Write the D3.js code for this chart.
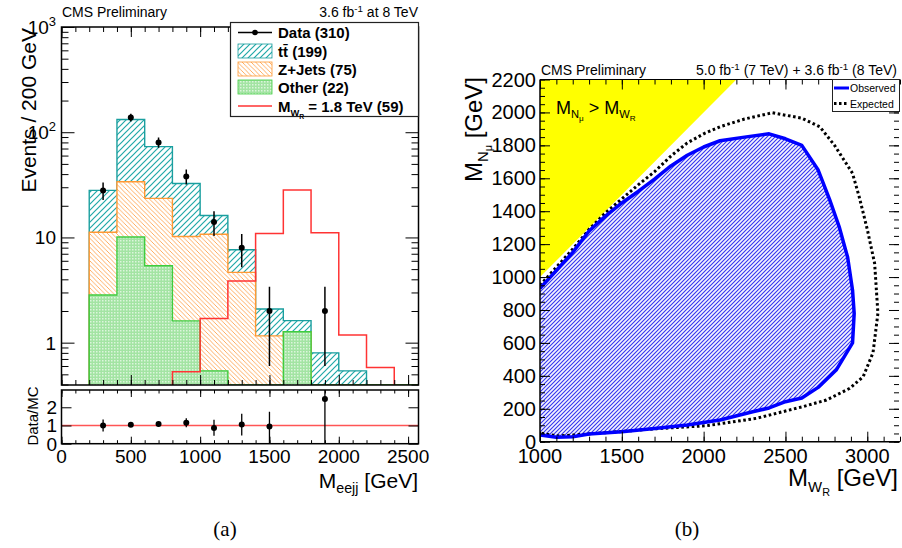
<!DOCTYPE html>
<html>
<head>
<meta charset="utf-8">
<script src="https://cdn.jsdelivr.net/npm/d3@7"></script>
<style>
body { margin: 0; background: #fff; }
text { font-family: "Liberation Sans", Arial, Helvetica, sans-serif; fill: #000; }
</style>
</head>
<body>
<script>
// ---- panel (a): M_eejj spectrum ----
var binLow   = [200, 400, 600, 800, 1000, 1200, 1400, 1600, 1800, 2000, 2200, 2400];
var binWidth = 200;
var ttbar    = [16.8, 98.2, 49.5, 22.4, 5.4, 2.98, 0.93, 0.35, 0.80, 0.54, 0, 0];
var zjets    = [8.36, 23.7, 18.1, 8.6, 10.2, 4.66, 1.16, 0, 0, 0, 0, 0];
var other    = [2.84, 10.1, 5.39, 1.61, 0.54, 0, 0, 1.27, 0, 0, 0, 0];
var signal   = [0, 0, 0, 0.53, 1.70, 3.85, 10.9, 28.2, 11.1, 1.18, 0.58, 0];
var dataMass = [300, 500, 700, 900, 1100, 1300, 1500, 1900];
var dataVal  = [28, 138, 80, 38, 14, 8, 2, 2];
var dataErr  = [5.3, 11.7, 8.9, 6.2, 3.7, 2.8, 1.4, 1.4];
var ratioVal   = [1.0, 1.04, 1.08, 1.15, 0.86, 1.05, 0.95, 2.45];
var ratioErrLo = [0.33, 0.1, 0.13, 0.25, 0.42, 0.6, 0.95, 2.45];
var ratioErrHi = [0.33, 0.1, 0.13, 0.25, 0.45, 0.6, 0.8, 1.8];
var legendA = ["Data (310)", "tt\u0304 (199)", "Z+Jets (75)", "Other (22)"];
var xTicksA = [0, 500, 1000, 1500, 2000, 2500];

// ---- panel (b): exclusion contours ----
var observed = [[1000,931],[1100,1040],[1200,1150],[1300,1280],[1400,1370],[1500,1450],[1600,1520],
  [1700,1595],[1800,1675],[1900,1740],[2000,1790],[2100,1828],[2250,1850],[2400,1870],[2500,1840],
  [2600,1800],[2700,1650],[2770,1470],[2830,1300],[2880,1120],[2910,920],[2920,780],[2910,600],
  [2810,435],[2700,330],[2600,265],[2500,243],[2400,205],[2300,182],[2100,132],[1900,101],[1700,80],
  [1500,60],[1300,47],[1200,30],[1100,27],[1000,41]];
var expected = [[1000,950],[1100,1060],[1200,1170],[1300,1290],[1400,1390],[1500,1475],[1600,1560],
  [1700,1640],[1800,1735],[1900,1815],[2000,1870],[2100,1913],[2250,1960],[2420,1998],[2600,1965],
  [2710,1913],[2800,1800],[2910,1630],[2950,1490],[3000,1290],[3045,1083],[3065,780],[3035,540],
  [2975,395],[2893,324],[2750,253],[2607,213],[2323,142],[2018,97],[1713,79],[1407,55],[1200,40],
  [1100,35],[1000,53]];
var kinLimit = [[1000,1000],[2200,2200],[1000,2200]];
var xTicksB = [1000, 1500, 2000, 2500, 3000];
var yTicksB = [0, 200, 400, 600, 800, 1000, 1200, 1400, 1600, 1800, 2000, 2200];

var svg = d3.select("body").append("svg")
    .attr("width", 902)
    .attr("height", 548);

var defs = svg.append("defs");

function hatch(id, w, d, col, sw, bg) {
    var p = defs.append("pattern").attr("id", id)
        .attr("patternUnits", "userSpaceOnUse").attr("width", w).attr("height", w);
    p.append("rect").attr("width", w).attr("height", w).attr("fill", bg);
    p.append("path").attr("d", d).attr("stroke", col).attr("stroke-width", sw);
}
hatch("pTT", 6, "M-1,1L1,-1M0,6L6,0M5,7L7,5", "#20a8a8", 1.2, "#fff");
hatch("pZ", 4.5, "M-1,3.5L1,5.5M0,0L4.5,4.5M3.5,-1L5.5,1", "#ff9a3c", 0.8, "#fff");
hatch("pBlue", 4, "M-1,1L1,-1M0,4L4,0M3,5L5,3", "#3434f0", 1.1, "#f4f4ff");
var pO = defs.append("pattern").attr("id", "pOther")
    .attr("patternUnits", "userSpaceOnUse").attr("width", 3).attr("height", 3);
pO.append("rect").attr("width", 3).attr("height", 3).attr("fill", "#a3e4a3");
pO.append("rect").attr("width", 1.5).attr("height", 1.5).attr("fill", "#dcf5dc");

// rich text helper: parts = [text, yOffset, sizeFactor]
function rich(t, parts, fs) {
    var cur = 0;
    parts.forEach(function(p) {
        t.append("tspan").attr("dy", p[1] - cur).attr("font-size", fs * p[2]).text(p[0]);
        cur = p[1];
    });
    return t;
}

function tickAxis(g, axisFn, scale, vals, size) {
    g.call(axisFn(scale).tickValues(vals).tickSize(-size).tickFormat(""))
        .call(function(s) { s.select(".domain").remove(); })
        .selectAll("line").attr("stroke", "#000");
}

// ===================== panel (a) =====================
var xL = d3.scaleLinear().domain([0, 2575]).range([61.5, 418.5]);
var yMain = d3.scaleLog().domain([0.396, 1000]).range([385, 27]);
var yRat = d3.scaleLinear().domain([0, 2.95]).range([443.7, 390]);
var yBot = yMain.range()[0];

defs.append("clipPath").attr("id", "clipA").append("rect")
    .attr("x", 61.5).attr("y", 27).attr("width", 357).attr("height", 358);

var stack = d3.stack().keys(["other", "zjets", "ttbar"])(
    binLow.map(function(b, i) { return { other: other[i], zjets: zjets[i], ttbar: ttbar[i] }; }));

function stepLine(vals) {
    var pts = [[xL(binLow[0]), yBot]];
    binLow.forEach(function(b, i) {
        var y = vals[i] > 0 ? yMain(vals[i]) : yBot;
        pts.push([xL(b), y], [xL(b + binWidth), y]);
    });
    pts.push([xL(binLow[binLow.length - 1] + binWidth), yBot]);
    return d3.line()(pts);
}

var histG = svg.append("g").attr("clip-path", "url(#clipA)");
var layers = [
    { vals: stack[2].map(function(d) { return d[1]; }), fill: "url(#pTT)", stroke: "#1a9f9f" },
    { vals: stack[1].map(function(d) { return d[1]; }), fill: "url(#pZ)", stroke: "#ff9933" },
    { vals: stack[0].map(function(d) { return d[1]; }), fill: "url(#pOther)", stroke: "#3fcc3f" }
];
layers.forEach(function(l) {
    histG.append("path").attr("d", stepLine(l.vals))
        .attr("fill", l.fill).attr("stroke", l.stroke).attr("stroke-width", 1.4);
});

// signal
var sigPts = [];
binLow.forEach(function(b, i) {
    if (signal[i] > 0) {
        if (!sigPts.length) sigPts.push([xL(b), yBot]);
        sigPts.push([xL(b), yMain(signal[i])], [xL(b + binWidth), yMain(signal[i])]);
    }
});
sigPts.push([sigPts[sigPts.length - 1][0], yBot]);
histG.append("path").attr("d", d3.line()(sigPts))
    .attr("fill", "none").attr("stroke", "#ff3333").attr("stroke-width", 1.5);

// data
var dataG = svg.append("g").attr("clip-path", "url(#clipA)");
dataMass.forEach(function(m, i) {
    dataG.append("line")
        .attr("x1", xL(m)).attr("x2", xL(m))
        .attr("y1", yMain(dataVal[i] + dataErr[i]))
        .attr("y2", yMain(Math.max(dataVal[i] - dataErr[i], 0.4)))
        .attr("stroke", "#000").attr("stroke-width", 1.5);
    dataG.append("circle").attr("cx", xL(m)).attr("cy", yMain(dataVal[i])).attr("r", 3);
});

// ticks main
var decades = [1, 10, 100, 1000];
var minorLog = [];
[0.1, 1, 10, 100].forEach(function(d) {
    for (var k = 2; k <= 9; k++) if (d * k >= 0.4 && d * k < 1000) minorLog.push(d * k);
});
var minorX = d3.range(0, 2575, 100);
tickAxis(svg.append("g").attr("transform", "translate(61.5,0)"), d3.axisLeft, yMain, decades, 13);
tickAxis(svg.append("g").attr("transform", "translate(61.5,0)"), d3.axisLeft, yMain, minorLog, 7);
tickAxis(svg.append("g").attr("transform", "translate(418.5,0)"), d3.axisRight, yMain, decades, 13);
tickAxis(svg.append("g").attr("transform", "translate(418.5,0)"), d3.axisRight, yMain, minorLog, 7);
tickAxis(svg.append("g").attr("transform", "translate(0,385)"), d3.axisBottom, xL, xTicksA, 10);
tickAxis(svg.append("g").attr("transform", "translate(0,385)"), d3.axisBottom, xL, minorX, 5);
tickAxis(svg.append("g").attr("transform", "translate(0,27)"), d3.axisTop, xL, xTicksA, 10);
tickAxis(svg.append("g").attr("transform", "translate(0,27)"), d3.axisTop, xL, minorX, 5);

svg.append("rect").attr("x", 61.5).attr("y", 27).attr("width", 357).attr("height", 358)
    .attr("fill", "none").attr("stroke", "#000").attr("stroke-width", 1.5);

// log labels
var decLabels = [["1", ""], ["10", ""], ["10", "2"], ["10", "3"]];
decades.forEach(function(d, i) {
    var t = svg.append("text").attr("x", 56).attr("y", yMain(d) + 7)
        .attr("text-anchor", "end").attr("font-size", 19);
    t.append("tspan").text(decLabels[i][0]);
    if (decLabels[i][1]) t.append("tspan").attr("dy", -8).attr("font-size", 13).text(decLabels[i][1]);
});

svg.append("text").attr("transform", "translate(36,28) rotate(-90)")
    .attr("text-anchor", "end").attr("font-size", 21).text("Events / 200 GeV");

// ratio panel
svg.append("line").attr("x1", 61.5).attr("x2", 418.5).attr("y1", yRat(1)).attr("y2", yRat(1))
    .attr("stroke", "#ff5555").attr("stroke-width", 1.6);
defs.append("clipPath").attr("id", "clipR").append("rect")
    .attr("x", 61.5).attr("y", 390).attr("width", 357).attr("height", 53.7);
var ratG = svg.append("g").attr("clip-path", "url(#clipR)");
dataMass.forEach(function(m, i) {
    ratG.append("line")
        .attr("x1", xL(m)).attr("x2", xL(m))
        .attr("y1", yRat(ratioVal[i] + ratioErrHi[i]))
        .attr("y2", yRat(ratioVal[i] - ratioErrLo[i]))
        .attr("stroke", "#000").attr("stroke-width", 1.3);
    ratG.append("circle").attr("cx", xL(m)).attr("cy", yRat(ratioVal[i])).attr("r", 3);
});
tickAxis(svg.append("g").attr("transform", "translate(0,443.7)"), d3.axisBottom, xL, xTicksA, 7);
tickAxis(svg.append("g").attr("transform", "translate(0,443.7)"), d3.axisBottom, xL, minorX, 3.5);
tickAxis(svg.append("g").attr("transform", "translate(0,390)"), d3.axisTop, xL, xTicksA, 7);
tickAxis(svg.append("g").attr("transform", "translate(0,390)"), d3.axisTop, xL, minorX, 3.5);
tickAxis(svg.append("g").attr("transform", "translate(61.5,0)"), d3.axisLeft, yRat, [0, 1, 2], 10);
tickAxis(svg.append("g").attr("transform", "translate(418.5,0)"), d3.axisRight, yRat, [0, 1, 2], 10);
svg.append("rect").attr("x", 61.5).attr("y", 390).attr("width", 357).attr("height", 53.7)
    .attr("fill", "none").attr("stroke", "#000").attr("stroke-width", 1.5);
[0, 1, 2].forEach(function(v) {
    svg.append("text").attr("x", 57).attr("y", yRat(v) + 7).attr("text-anchor", "end")
        .attr("font-size", 19).text(v);
});
svg.append("text").attr("transform", "translate(38,416) rotate(-90)")
    .attr("text-anchor", "middle").attr("font-size", 15).text("Data/MC");

xTicksA.forEach(function(v) {
    svg.append("text").attr("x", xL(v)).attr("y", 463).attr("text-anchor", "middle")
        .attr("font-size", 19).text(v);
});
rich(svg.append("text").attr("x", 418).attr("y", 488).attr("text-anchor", "end"),
    [["M", 0, 1], ["eejj", 5, 0.68], [" [GeV]", 0, 1]], 21);

svg.append("text").attr("x", 62).attr("y", 17).attr("font-size", 14).text("CMS Preliminary");
rich(svg.append("text").attr("x", 418).attr("y", 17).attr("text-anchor", "end"),
    [["3.6 fb", 0, 1], ["-1", -5, 0.7], [" at 8 TeV", 0, 1]], 14);

// legend (a)
var lg = svg.append("g");
lg.append("rect").attr("x", 230.5).attr("y", 22.5).attr("width", 188).attr("height", 94)
    .attr("fill", "#fff").attr("stroke", "#222").attr("stroke-width", 1.2);
var rowY = [32.5, 51, 69, 87, 106];
lg.append("line").attr("x1", 238).attr("x2", 272).attr("y1", rowY[0]).attr("y2", rowY[0])
    .attr("stroke", "#000").attr("stroke-width", 1.3);
lg.append("circle").attr("cx", 255).attr("cy", rowY[0]).attr("r", 2.8);
[["url(#pTT)", "#1a9f9f"], ["url(#pZ)", "#ff9933"], ["url(#pOther)", "#3fcc3f"]].forEach(function(s, i) {
    lg.append("rect").attr("x", 238).attr("y", rowY[i + 1] - 7).attr("width", 34).attr("height", 14)
        .attr("fill", s[0]).attr("stroke", s[1]).attr("stroke-width", 0.8);
});
lg.append("line").attr("x1", 238).attr("x2", 272).attr("y1", rowY[4]).attr("y2", rowY[4])
    .attr("stroke", "#ff3333").attr("stroke-width", 1.5);
legendA.forEach(function(s, i) {
    lg.append("text").attr("x", 278).attr("y", rowY[i] + 5.5).attr("font-size", 15)
        .attr("font-weight", "bold").text(s);
});
rich(lg.append("text").attr("x", 278).attr("y", rowY[4] + 5.5).attr("font-weight", "bold"),
    [["M", 0, 1], ["W", 4, 0.62], ["R", 7, 0.45], [" = 1.8 TeV (59)", 0, 1]], 15);

// ===================== panel (b) =====================
var xR = d3.scaleLinear().domain([1000, 3200]).range([540, 900]);
var yR = d3.scaleLinear().domain([0, 2200]).range([441.7, 79.5]);
defs.append("clipPath").attr("id", "clipB").append("rect")
    .attr("x", 540).attr("y", 79.5).attr("width", 360).attr("height", 362.2);
var gB = svg.append("g").attr("clip-path", "url(#clipB)");
var lineB = d3.line().x(function(d) { return xR(d[0]); }).y(function(d) { return yR(d[1]); });

gB.append("path").attr("d", lineB(kinLimit) + "Z").attr("fill", "#ffff00");
gB.append("path").attr("d", lineB(observed) + "Z").attr("fill", "url(#pBlue)");
gB.append("path").attr("d", lineB(expected)).attr("fill", "none")
    .attr("stroke", "#000").attr("stroke-width", 3).attr("stroke-dasharray", "2.6,2.6");
gB.append("path").attr("d", lineB(observed)).attr("fill", "none")
    .attr("stroke", "#0000ff").attr("stroke-width", 3.5).attr("stroke-linejoin", "round");

var minorXB = d3.range(1000, 3201, 100);
var minorYB = d3.range(0, 2201, 50);
tickAxis(svg.append("g").attr("transform", "translate(540,0)"), d3.axisLeft, yR, yTicksB, 10);
tickAxis(svg.append("g").attr("transform", "translate(540,0)"), d3.axisLeft, yR, minorYB, 5);
tickAxis(svg.append("g").attr("transform", "translate(899,0)"), d3.axisRight, yR, yTicksB, 10);
tickAxis(svg.append("g").attr("transform", "translate(899,0)"), d3.axisRight, yR, minorYB, 5);
tickAxis(svg.append("g").attr("transform", "translate(0,441.7)"), d3.axisBottom, xR, xTicksB, 10);
tickAxis(svg.append("g").attr("transform", "translate(0,441.7)"), d3.axisBottom, xR, minorXB, 5);
tickAxis(svg.append("g").attr("transform", "translate(0,79.5)"), d3.axisTop, xR, xTicksB, 10);
tickAxis(svg.append("g").attr("transform", "translate(0,79.5)"), d3.axisTop, xR, minorXB, 5);
svg.append("line").attr("x1", 540).attr("x2", 540).attr("y1", 79.5).attr("y2", 441.7)
    .attr("stroke", "#000").attr("stroke-width", 1.5);
svg.append("line").attr("x1", 540).attr("x2", 900).attr("y1", 441.7).attr("y2", 441.7)
    .attr("stroke", "#000").attr("stroke-width", 1.5);
svg.append("line").attr("x1", 540).attr("x2", 900).attr("y1", 79.5).attr("y2", 79.5)
    .attr("stroke", "#000").attr("stroke-width", 1);

yTicksB.forEach(function(v) {
    svg.append("text").attr("x", 536).attr("y", yR(v) + 7).attr("text-anchor", "end")
        .attr("font-size", 20).text(v);
});
xTicksB.forEach(function(v) {
    svg.append("text").attr("x", xR(v)).attr("y", 463).attr("text-anchor", "middle")
        .attr("font-size", 20).text(v);
});
rich(svg.append("text").attr("x", 898).attr("y", 486).attr("text-anchor", "end"),
    [["M", 0, 1], ["W", 6, 0.62], ["R", 10, 0.45], [" [GeV]", 0, 1]], 24);
rich(svg.append("text").attr("transform", "translate(482,77) rotate(-90)").attr("text-anchor", "end"),
    [["M", 0, 1], ["N", 6, 0.62], ["\u03bc", 10, 0.45], [" [GeV]", 0, 1]], 24);

svg.append("text").attr("x", 541).attr("y", 75).attr("font-size", 14).text("CMS Preliminary");
rich(svg.append("text").attr("x", 897).attr("y", 75).attr("text-anchor", "end"),
    [["5.0 fb", 0, 1], ["-1", -5, 0.7], [" (7 TeV) + 3.6 fb", 0, 1], ["-1", -5, 0.7], [" (8 TeV)", 0, 1]], 14);

rich(svg.append("text").attr("x", 556).attr("y", 114),
    [["M", 0, 1], ["N", 4, 0.62], ["\u03bc", 7, 0.45], [" > M", 0, 1], ["W", 4, 0.62], ["R", 7, 0.45]], 18);

// legend (b)
var lgB = svg.append("g");
lgB.append("rect").attr("x", 832.5).attr("y", 79.5).attr("width", 67).attr("height", 32)
    .attr("fill", "#fff").attr("stroke", "#222").attr("stroke-width", 1);
lgB.append("line").attr("x1", 834).attr("x2", 849).attr("y1", 88).attr("y2", 88)
    .attr("stroke", "#0000ff").attr("stroke-width", 3);
lgB.append("line").attr("x1", 834).attr("x2", 849).attr("y1", 103.5).attr("y2", 103.5)
    .attr("stroke", "#000").attr("stroke-width", 3).attr("stroke-dasharray", "2.5,2.5");
lgB.append("text").attr("x", 850).attr("y", 92).attr("font-size", 10.5).text("Observed");
lgB.append("text").attr("x", 850).attr("y", 107.5).attr("font-size", 10.5).text("Expected");

// captions
svg.append("text").attr("x", 225).attr("y", 536).attr("text-anchor", "middle")
    .attr("font-size", 21).style("font-family", "'Liberation Serif', 'Times New Roman', serif").text("(a)");
svg.append("text").attr("x", 687).attr("y", 536).attr("text-anchor", "middle")
    .attr("font-size", 21).style("font-family", "'Liberation Serif', 'Times New Roman', serif").text("(b)");
</script>
</body>
</html>
